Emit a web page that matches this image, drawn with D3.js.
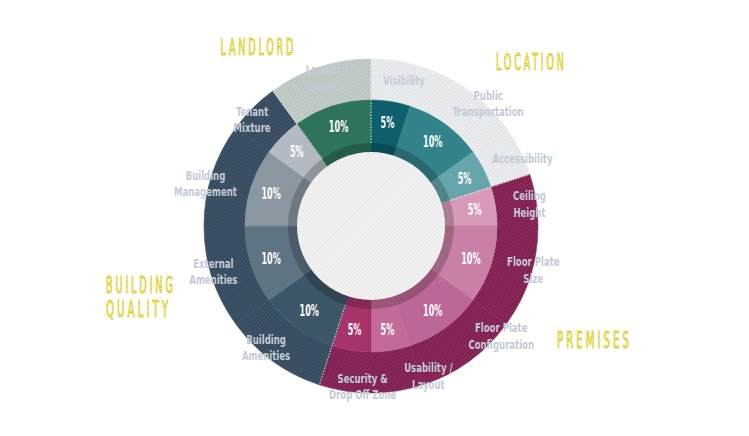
<!DOCTYPE html>
<html>
<head>
<meta charset="utf-8">
<script src="https://cdn.jsdelivr.net/npm/d3@7"></script>
<style>
  html, body { margin: 0; padding: 0; background: #ffffff; }
  svg { display: block; }
</style>
</head>
<body>
<svg id="chart" width="749" height="436"></svg>
<script>
// ---- data ----
const groups = ["LOCATION", "PREMISES", "BUILDING QUALITY", "LANDLORD"];
const items = ["Visibility", "Public Transportation", "Accessibility",
  "Ceiling Height", "Floor Plate Size", "Floor Plate Configuration", "Usability / Layout", "Security & Drop Off Zone",
  "Building Amenities", "External Amenities", "Building Management",
  "Tenant Mixture", "Landlord Quality"];
const itemGroup = [0, 0, 0, 1, 1, 1, 1, 1, 2, 2, 2, 3, 3];
const bandGroup = [0, 0, 0, 1, 1, 1, 1, 1, 2, 2, 2, 2, 3];
const weights = [5, 10, 5, 5, 10, 10, 5, 5, 10, 10, 10, 5, 10];
const labelLines = [["Visibility"], ["Public", "Transportation"], ["Accessibility"],
  ["Ceiling", "Height"], ["Floor Plate", "Size"], ["Floor Plate", "Configuration"], ["Usability /", "Layout"], ["Security &", "Drop Off Zone"],
  ["Building", "Amenities"], ["External", "Amenities"], ["Building", "Management"],
  ["Tenant", "Mixture"], ["Landlord", "Quality"]];

// ---- styles / layout ----
const innerColors = ["#0d5f6b", "#33838a", "#66a6ab",
  "#d79ab9", "#c880a6", "#bc6795", "#c46a98", "#a6336a",
  "#3d5668", "#5e7482", "#8a97a1",
  "#b3bac1", "#2e735a"];
const bandColors = [["#eef0f1", "#dfe3e6"], ["#7b1b4b", "#8e2f60"], ["#33475a", "#40566a"], ["#c8d1cd", "#b6c1bc"]];
// label placement: [angle (deg), radius] of the text block centre
const labelLayout = [[12.7, 150], [43.6, 170], [65.8, 166],
  [82, 160], [105, 168], [130, 170], [159, 160], [183, 160],
  [221, 160], [254, 164], [284.5, 171],
  [312, 160], [343.5, 155]];
const titleLayout = [
  {lines: ["LOCATION"], x: 530, y: 70, anchor: "middle", widths: [68]},
  {lines: ["PREMISES"], x: 593, y: 348, anchor: "middle", widths: [72]},
  {lines: ["BUILDING", "QUALITY"], x: 106, y: 293, anchor: "start", widths: [67, 62]},
  {lines: ["LANDLORD"], x: 257, y: 55, anchor: "middle", widths: [73]}
];

const cx = 371, cy = 226;
const R0 = 74, R1 = 83, R2 = 126, R3 = 167;

const svg = d3.select("#chart");
const defs = svg.append("defs");

function hatch(id, base, line, size) {
  const p = defs.append("pattern").attr("id", id)
    .attr("patternUnits", "userSpaceOnUse")
    .attr("width", size).attr("height", size)
    .attr("patternTransform", "rotate(45)");
  p.append("rect").attr("width", size).attr("height", size).attr("fill", base);
  p.append("rect").attr("width", size / 2).attr("height", size).attr("fill", line);
}
bandColors.forEach((c, i) => hatch("band" + i, c[0], c[1], 3));
hatch("centre", "#f4f4f4", "#e9e9e9", 3);
hatch("yellow", "#d4c300", "#efe79a", 1.6);

const data = items.map((name, i) => ({name, w: weights[i], g: itemGroup[i], b: bandGroup[i], i}));
const pie = d3.pie().sort(null).value(d => d.w);
const arcs = pie(data);

const g = svg.append("g").attr("transform", `translate(${cx},${cy})`);

const outerArc = d3.arc().innerRadius(R2).outerRadius(R3);
const innerArc = d3.arc().innerRadius(R1 - 10).outerRadius(R2);

// outer band
g.selectAll("path.outer").data(arcs).join("path")
  .attr("class", "outer")
  .attr("d", outerArc)
  .attr("fill", d => `url(#band${d.data.b})`)
  .attr("stroke", d => `url(#band${d.data.b})`)
  .attr("stroke-width", 0.6);

// inner slices
g.selectAll("path.inner").data(arcs).join("path")
  .attr("class", "inner")
  .attr("d", innerArc)
  .attr("fill", d => innerColors[d.data.i])
  .attr("stroke", d => innerColors[d.data.i])
  .attr("stroke-width", 0.6);

// dark ring overlay
g.append("path")
  .attr("d", d3.arc().innerRadius(R0 - 1).outerRadius(R1)({startAngle: 0, endAngle: 2 * Math.PI}))
  .attr("fill", "#000").attr("opacity", 0.2);

// centre disc
g.append("circle").attr("r", R0).attr("fill", "url(#centre)");

// group separators (dotted)
const seps = arcs.filter((d, k) => d.data.b !== arcs[(k + arcs.length - 1) % arcs.length].data.b).map(d => d.startAngle);
g.selectAll("line.sep").data(seps).join("line")
  .attr("class", "sep")
  .attr("x1", a => Math.sin(a) * R1).attr("y1", a => -Math.cos(a) * R1)
  .attr("x2", a => Math.sin(a) * R3).attr("y2", a => -Math.cos(a) * R3)
  .attr("stroke", "#ffffff").attr("stroke-width", 1)
  .attr("stroke-dasharray", "1.5,1.5").attr("opacity", 0.85);

// percentage labels
const pctArc = d3.arc().innerRadius(105).outerRadius(105);
const total = d3.sum(weights);
g.selectAll("g.pct").data(arcs).join("g")
  .attr("class", "pct")
  .attr("transform", d => { const c = pctArc.centroid(d); return `translate(${c[0]},${c[1] + 5.5}) scale(0.6,1)`; })
  .append("text")
  .attr("text-anchor", "middle")
  .attr("font-family", "'DejaVu Sans Condensed', 'DejaVu Sans', sans-serif")
  .attr("font-weight", "bold")
  .attr("font-size", 15)
  .attr("fill", "#ffffff")
  .text(d => Math.round(d.data.w / total * 100) + "%");

// item labels
const lh = 16.5;
g.selectAll("g.lbl").data(arcs).join("g")
  .attr("class", "lbl")
  .attr("transform", d => {
    const [a, r] = labelLayout[d.data.i];
    const rad = a * Math.PI / 180;
    return `translate(${Math.sin(rad) * r},${-Math.cos(rad) * r}) scale(0.73,1)`;
  })
  .each(function(d) {
    const lines = labelLines[d.data.i];
    const y0 = 5 - (lines.length - 1) * lh / 2;
    lines.forEach((ln, k) => d3.select(this).append("text")
      .attr("text-anchor", "middle")
      .attr("font-family", "'DejaVu Sans Condensed', 'DejaVu Sans', sans-serif")
      .attr("font-weight", "bold")
      .attr("font-size", 13)
      .attr("fill", "#c3cbd7")
      .attr("x", 0).attr("y", y0 + k * lh).text(ln));
  });

// group titles (glyphs compressed horizontally to the target width)
titleLayout.forEach((t) => {
  t.lines.forEach((ln, k) => {
    const tg = svg.append("g");
    const txt = tg.append("text")
      .attr("x", 0).attr("y", 0)
      .attr("text-anchor", t.anchor)
      .attr("font-family", "'DejaVu Sans Condensed', 'DejaVu Sans', sans-serif")
      .attr("font-size", 23)
      .attr("fill", "url(#yellow)")
      .attr("stroke", "url(#yellow)")
      .attr("stroke-width", 1.1)
      .attr("letter-spacing", 6)
      .text(ln);
    const w = txt.node().getComputedTextLength() - 6;
    if (t.anchor === "middle") txt.attr("dx", 3);
    const sx = t.widths[k] / w;
    tg.attr("transform", `translate(${t.x},${t.y + k * 24}) scale(${sx},1)`);
  });
});
</script>
</body>
</html>
